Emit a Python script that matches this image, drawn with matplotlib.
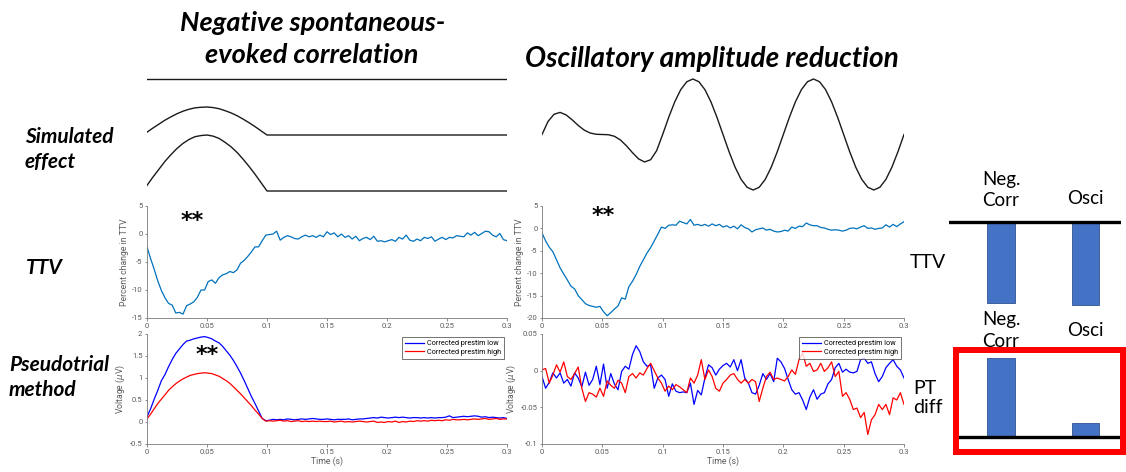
import matplotlib
matplotlib.use("Agg")
import matplotlib.pyplot as plt
import matplotlib.ticker as ticker
import matplotlib.transforms as mtransforms
import numpy as np
from matplotlib.patches import Rectangle

plt.rcParams["font.family"] = ["Roboto", "DejaVu Sans"]

W, H = 1126, 472

# ---- simulated effects (arbitrary units) ----
bump_time = [0.000, 0.005, 0.010, 0.015, 0.020, 0.025, 0.030, 0.035, 0.040, 0.045,
             0.050, 0.055, 0.060, 0.065, 0.070, 0.075, 0.080, 0.085, 0.090, 0.095,
             0.100, 0.300]
bump_shape = [0.10, 0.25, 0.39, 0.53, 0.65, 0.76, 0.85, 0.92, 0.97, 0.99,
              1.00, 0.98, 0.94, 0.87, 0.79, 0.69, 0.57, 0.44, 0.30, 0.15,
              0.00, 0.00]
bump_amp = [1.0, 2.0]          # weak / strong evoked response
trace_offset = [0.0, -2.0, -4.0]  # flat prestim line, weak bump, strong bump

osc_time = np.linspace(0, 0.3, 61)
osc_wave = [0.000, 0.235, 0.365, 0.398, 0.353, 0.264, 0.164, 0.079, 0.026, 0.004,
            0.000, -0.004, -0.032, -0.099, -0.204, -0.328, -0.439, -0.495, -0.455, -0.292,
            0.000, 0.309, 0.588, 0.809, 0.951, 1.000, 0.951, 0.809, 0.588, 0.309,
            0.000, -0.309, -0.588, -0.809, -0.951, -1.000, -0.951, -0.809, -0.588, -0.309,
            0.000, 0.309, 0.588, 0.809, 0.951, 1.000, 0.951, 0.809, 0.588, 0.309,
            0.000, -0.309, -0.588, -0.809, -0.951, -1.000, -0.951, -0.809, -0.588, -0.309,
            0.000]

# ---- recovered traces, sampled every 3 ms ----
time = np.linspace(0, 0.3, 101)

ttv_negcorr = [
    -2.3, -4.4, -6.3, -8.4, -10.1, -11.4, -12.4, -12.7, -14.1, -14.0,
    -14.3, -12.8, -12.5, -12.1, -11.3, -10.0, -10.0, -8.5, -8.2, -8.8,
    -7.8, -7.3, -7.1, -6.7, -6.9, -6.4, -5.2, -4.7, -4.0, -3.2,
    -2.3, -2.3, -1.2, -0.2, -0.1, 0.0, 0.5, -1.1, -0.6, -0.3,
    -0.5, -0.8, -0.9, -0.5, -0.2, -0.5, -0.3, -0.6, -0.2, -0.5,
    0.4, -0.1, 0.2, -0.5, 0.0, -0.6, -0.3, -0.9, -0.4, -1.2,
    -0.8, -0.6, -1.0, -0.4, -1.3, -1.2, -1.4, -1.2, -1.0, -1.3,
    -0.6, -0.9, -0.2, -1.1, -1.3, -0.9, -1.2, -0.6, -0.8, -0.5,
    -1.3, -0.9, -0.6, -1.0, -0.6, -0.7, -0.3, -0.4, -0.5, 0.2,
    -0.2, 0.3, -0.3, 0.1, 0.5, 0.4, -0.2, -0.5, 0.1, -1.0,
    -1.2]

ttv_osci = [
    -1.0, -2.8, -4.2, -5.2, -7.0, -8.8, -10.2, -11.5, -12.9, -13.5,
    -15.0, -15.9, -16.8, -17.2, -17.4, -17.6, -17.4, -18.6, -19.5, -18.8,
    -18.0, -17.3, -15.5, -15.8, -13.0, -11.8, -10.3, -8.5, -7.0, -5.5,
    -4.3, -2.8, -1.3, 0.3, 0.0, 0.7, 0.8, 0.7, 1.6, 1.3,
    1.0, 2.0, 0.7, 0.9, 0.6, 0.9, 0.5, 1.0, 0.6, 0.9,
    0.3, 0.6, 0.1, 0.5, -0.1, 0.8, 0.2, -0.1, -0.8, -0.3,
    -0.1, 0.1, -0.4, -0.2, -0.6, -0.8, -0.7, -0.4, -0.6, 0.3,
    0.0, 0.5, 0.4, 1.2, 0.8, 0.6, 0.6, 0.2, 0.1, -0.2,
    -0.4, -0.3, -0.4, -0.6, -0.4, 0.0, 0.1, -0.1, 0.3, 0.6,
    0.0, 0.1, -0.2, 0.0, 0.1, 0.8, 0.3, 0.9, 0.4, 1.0,
    1.5]

pt_negcorr_low = [
    0.12, 0.30, 0.52, 0.72, 0.94, 1.08, 1.26, 1.42, 1.56, 1.66,
    1.76, 1.84, 1.86, 1.89, 1.91, 1.93, 1.94, 1.92, 1.89, 1.84,
    1.80, 1.72, 1.62, 1.52, 1.40, 1.26, 1.11, 0.94, 0.76, 0.58,
    0.42, 0.25, 0.08, 0.03, 0.04, 0.06, 0.05, 0.06, 0.05, 0.07,
    0.06, 0.05, 0.06, 0.07, 0.06, 0.07, 0.08, 0.07, 0.06, 0.06,
    0.07, 0.06, 0.05, 0.06, 0.06, 0.06, 0.07, 0.05, 0.06, 0.07,
    0.07, 0.08, 0.09, 0.10, 0.09, 0.11, 0.10, 0.09, 0.10, 0.11,
    0.10, 0.11, 0.10, 0.09, 0.10, 0.10, 0.09, 0.10, 0.09, 0.10,
    0.09, 0.10, 0.10, 0.11, 0.14, 0.10, 0.11, 0.12, 0.13, 0.12,
    0.13, 0.14, 0.13, 0.11, 0.12, 0.10, 0.11, 0.10, 0.09, 0.10,
    0.08]

pt_negcorr_high = [
    0.07, 0.18, 0.30, 0.42, 0.52, 0.62, 0.72, 0.80, 0.87, 0.93,
    0.98, 1.02, 1.06, 1.08, 1.10, 1.11, 1.12, 1.11, 1.10, 1.07,
    1.04, 0.99, 0.94, 0.88, 0.80, 0.72, 0.64, 0.55, 0.46, 0.37,
    0.27, 0.18, 0.08, 0.02, 0.03, 0.02, 0.03, 0.04, 0.02, 0.03,
    0.01, 0.02, 0.03, 0.01, 0.02, 0.01, 0.02, 0.01, 0.02, 0.01,
    0.01, 0.02, 0.00, 0.01, 0.02, 0.00, 0.01, 0.00, 0.01, 0.02,
    0.01, 0.00, 0.01, 0.02, -0.01, 0.00, -0.01, 0.01, 0.00, 0.02,
    -0.01, 0.01, 0.00, 0.02, 0.01, 0.03, 0.02, 0.03, 0.02, 0.04,
    0.03, 0.04, 0.03, 0.05, 0.04, 0.06, 0.05, 0.05, 0.06, 0.05,
    0.06, 0.07, 0.06, 0.07, 0.08, 0.06, 0.07, 0.08, 0.06, 0.07,
    0.07]

pt_osci_low = [
    -0.008, -0.024, -0.016, -0.003, -0.010, -0.003, -0.017, -0.012, -0.021, -0.003,
    -0.010, -0.022, -0.002, -0.020, -0.012, 0.006, -0.019, 0.009, -0.024, -0.004,
    -0.018, -0.026, -0.001, 0.006, 0.002, 0.022, 0.034, 0.026, 0.012, 0.006,
    0.008, -0.024, -0.010, -0.006, -0.012, -0.035, -0.018, -0.028, -0.030, -0.029,
    -0.030, -0.017, -0.046, -0.027, -0.033, -0.010, 0.008, 0.004, -0.006, 0.002,
    0.007, 0.010, 0.005, 0.015, 0.000, 0.015, -0.010, -0.017, -0.030, -0.032,
    -0.020, -0.004, -0.012, -0.004, -0.015, 0.017, 0.012, 0.003, -0.012, -0.026,
    -0.032, -0.030, -0.040, -0.053, -0.036, -0.026, -0.039, -0.032, -0.030, -0.018,
    -0.012, 0.004, 0.010, -0.002, 0.002, -0.002, -0.003, -0.001, 0.015, 0.017,
    0.010, 0.012, -0.004, -0.015, -0.008, 0.004, 0.010, 0.015, 0.006, 0.001,
    -0.010]

pt_osci_high = [
    0.001, 0.003, -0.017, -0.006, 0.008, -0.002, 0.012, -0.008, -0.012, -0.004,
    0.005, -0.024, -0.042, -0.030, -0.032, -0.036, -0.024, -0.035, -0.014, -0.020,
    -0.024, -0.013, -0.017, -0.030, -0.008, -0.004, -0.010, -0.003, -0.006, 0.003,
    0.010, 0.000, -0.010, -0.017, -0.028, -0.021, -0.026, -0.019, -0.022, -0.026,
    -0.030, -0.010, -0.017, -0.006, 0.015, -0.012, 0.001, -0.008, -0.024, -0.028,
    -0.017, -0.012, -0.006, -0.004, -0.012, -0.017, -0.012, -0.017, -0.012, -0.015,
    -0.042, -0.024, -0.008, -0.002, -0.012, -0.010, -0.012, -0.014, -0.008, 0.001,
    -0.005, 0.015, 0.024, 0.006, 0.010, -0.001, 0.001, 0.010, -0.001, 0.004,
    0.012, -0.008, -0.001, -0.035, -0.030, -0.039, -0.053, -0.051, -0.064, -0.057,
    -0.087, -0.067, -0.060, -0.046, -0.053, -0.046, -0.060, -0.037, -0.040, -0.030,
    -0.046]

# ---- summary bars (schematic) ----
bar_labels = ["Neg.\nCorr", "Osci"]
ttv_bars = [-0.976, -1.0]
pt_bars = [0.952, 0.169]

TTV_BLUE = "#0072BD"
BAR_FACE = "#4472C4"
BAR_EDGE = "#2F528F"
AX_GREY = "#7a7a7a"
TXT_GREY = "#5a5a5a"

fig = plt.figure(figsize=(W / 100, H / 100), dpi=100)
fig.patch.set_facecolor("white")


def px_axes(left, top, right, bottom):
    return fig.add_axes([left / W, 1 - bottom / H, (right - left) / W, (bottom - top) / H])


def px_text(x, y, s, **kw):
    return fig.text(x / W, 1 - y / H, s, **kw)


def matlab_style(ax):
    for side in ("top", "right"):
        ax.spines[side].set_visible(False)
    for side in ("left", "bottom"):
        ax.spines[side].set_color(AX_GREY)
        ax.spines[side].set_linewidth(0.6)
    ax.tick_params(labelsize=5.5, colors=AX_GREY, labelcolor=TXT_GREY,
                   length=1.8, width=0.6, direction="out", pad=1.5)
    ax.set_xlim(0, 0.3)
    ax.set_xticks(np.arange(0, 0.301, 0.05))
    ax.xaxis.set_major_formatter(ticker.FormatStrFormatter("%g"))
    ax.yaxis.set_major_formatter(ticker.FormatStrFormatter("%g"))
    ax.set_facecolor("none")


def blank(ax):
    ax.set_axis_off()
    ax.patch.set_alpha(0)


def stars(x, y):
    px_text(x, y, "**", fontsize=16, fontweight="bold", ha="center", va="center",
            family="DejaVu Sans")


# column headers and row labels
title_kw = dict(fontfamily="Lato", fontweight="bold", fontstyle="italic",
                ha="center", va="center", color="black")
px_text(313, 23, "Negative spontaneous-", fontsize=19.5, **title_kw)
px_text(312, 55, "evoked correlation", fontsize=19.5, **title_kw)
px_text(712, 59, "Oscillatory amplitude reduction", fontsize=20.2, **title_kw)

row_kw = dict(fontfamily="Lato", fontweight="bold", fontstyle="italic",
              fontsize=15, ha="left", va="center", color="black")
px_text(25, 137, "Simulated", **row_kw)
px_text(25, 162, "effect", **row_kw)
px_text(26, 268, "TTV", **row_kw)
px_text(9, 365, "Pseudotrial", **row_kw)
px_text(9, 390, "method", **row_kw)

# simulated negative correlation: flat line, weak and strong evoked bump
ax = px_axes(147, 79 - 0.4 * 28, 507, 191 + 0.4 * 28)
ax.plot([0, 0.3], [trace_offset[0]] * 2, color="#1a1a1a", lw=1.0)
for amp, off in zip(bump_amp, trace_offset[1:]):
    ax.plot(bump_time, np.array(bump_shape) * amp + off, color="#1a1a1a", lw=1.0)
ax.set_xlim(0, 0.3)
ax.set_ylim(-4.4, 0.4)
blank(ax)

# simulated oscillation with reduced amplitude after stimulus
ax = px_axes(542, 134.5 - 1.2 * 55.5, 904, 134.5 + 1.2 * 55.5)
ax.plot(osc_time, osc_wave, color="#1a1a1a", lw=1.0)
ax.set_xlim(0, 0.3)
ax.set_ylim(-1.2, 1.2)
blank(ax)

# TTV curves
for (left, right), ttv, ymin in (((147, 507), ttv_negcorr, -15), ((542, 904), ttv_osci, -20)):
    ax = px_axes(left, 206, right, 318)
    ax.plot(time, ttv, color=TTV_BLUE, lw=0.9)
    matlab_style(ax)
    ax.set_ylim(ymin, 5)
    ax.set_yticks(np.arange(ymin, 5.1, 5))
    ax.set_ylabel("Percent change in TTV", fontsize=6.2, color=TXT_GREY, labelpad=2)

stars(192, 221)
stars(603, 216)

# pseudotrial ERPs
pt_sets = (
    ((147, 507), pt_negcorr_low, pt_negcorr_high, (-0.5, 2), np.arange(-0.5, 2.01, 0.5)),
    ((542, 904), pt_osci_low, pt_osci_high, (-0.1, 0.05), [-0.1, -0.05, 0, 0.05]),
)
for (left, right), low, high, ylim, yticks in pt_sets:
    ax = px_axes(left, 334, right, 444)
    ax.plot(time, low, color="#0000FF", lw=0.9, label="Corrected prestim low")
    ax.plot(time, high, color="#FF0000", lw=0.9, label="Corrected prestim high")
    matlab_style(ax)
    ax.set_ylim(*ylim)
    ax.set_yticks(yticks)
    ax.set_ylabel("Voltage ($\\mu$V)", fontsize=6.2, color=TXT_GREY, labelpad=2)
    ax.set_xlabel("Time (s)", fontsize=6.2, color=TXT_GREY, labelpad=1)
    leg = ax.legend(loc="upper right", fontsize=5.2, frameon=True, fancybox=False,
                    borderpad=0.4, handlelength=2.6, handletextpad=0.4,
                    labelspacing=0.2, borderaxespad=0.45)
    leg.get_frame().set_edgecolor("#333333")
    leg.get_frame().set_linewidth(0.6)

stars(207, 355)

# summary bars
PX_PER_UNIT = 83
bar_x = [0, 1]
lab_kw = dict(fontfamily="Lato", fontsize=13.5, ha="center", va="center", color="black")

ax = px_axes(949, 222 - 0.08 * PX_PER_UNIT, 1121, 222 + 1.05 * PX_PER_UNIT)
ax.bar(bar_x, ttv_bars, width=0.33, color=BAR_FACE, edgecolor=BAR_EDGE, lw=0.6, zorder=2)
ax.axhline(0, color="black", lw=2.4, zorder=3)
ax.set_xlim(-0.615, 1.42)
ax.set_ylim(-1.05, 0.08)
blank(ax)
trans = mtransforms.blended_transform_factory(ax.transData, fig.transFigure)
ax.text(bar_x[0], 1 - 190 / H, bar_labels[0], transform=trans, linespacing=1.35, **lab_kw)
ax.text(bar_x[1], 1 - 198 / H, bar_labels[1], transform=trans, **lab_kw)

ax = px_axes(958, 437 - 1.0 * PX_PER_UNIT, 1122, 437 + 0.08 * PX_PER_UNIT)
ax.bar(bar_x, pt_bars, width=0.33, color=BAR_FACE, edgecolor=BAR_EDGE, lw=0.6, zorder=2)
ax.axhline(0, color="black", lw=2.4, zorder=3)
ax.set_xlim(-0.509, 1.432)
ax.set_ylim(-0.08, 1.0)
blank(ax)
trans = mtransforms.blended_transform_factory(ax.transData, fig.transFigure)
ax.text(bar_x[0], 1 - 330.5 / H, bar_labels[0], transform=trans, linespacing=1.35, **lab_kw)
ax.text(bar_x[1], 1 - 331 / H, bar_labels[1], transform=trans, **lab_kw)

px_text(910, 263, "TTV", fontfamily="Lato", fontsize=14, ha="left", va="center")
px_text(913, 398, "PT\ndiff", fontfamily="Lato", fontsize=14, ha="left", va="center",
        linespacing=1.2)

# highlight box round the pseudotrial bars
fig.patches.append(Rectangle((956 / W, 1 - 452 / H), (1123 - 956) / W, (452 - 350) / H,
                             transform=fig.transFigure, fill=False,
                             edgecolor="#FF0000", lw=4.3))

fig.savefig("out.png", dpi=100, facecolor="white")
